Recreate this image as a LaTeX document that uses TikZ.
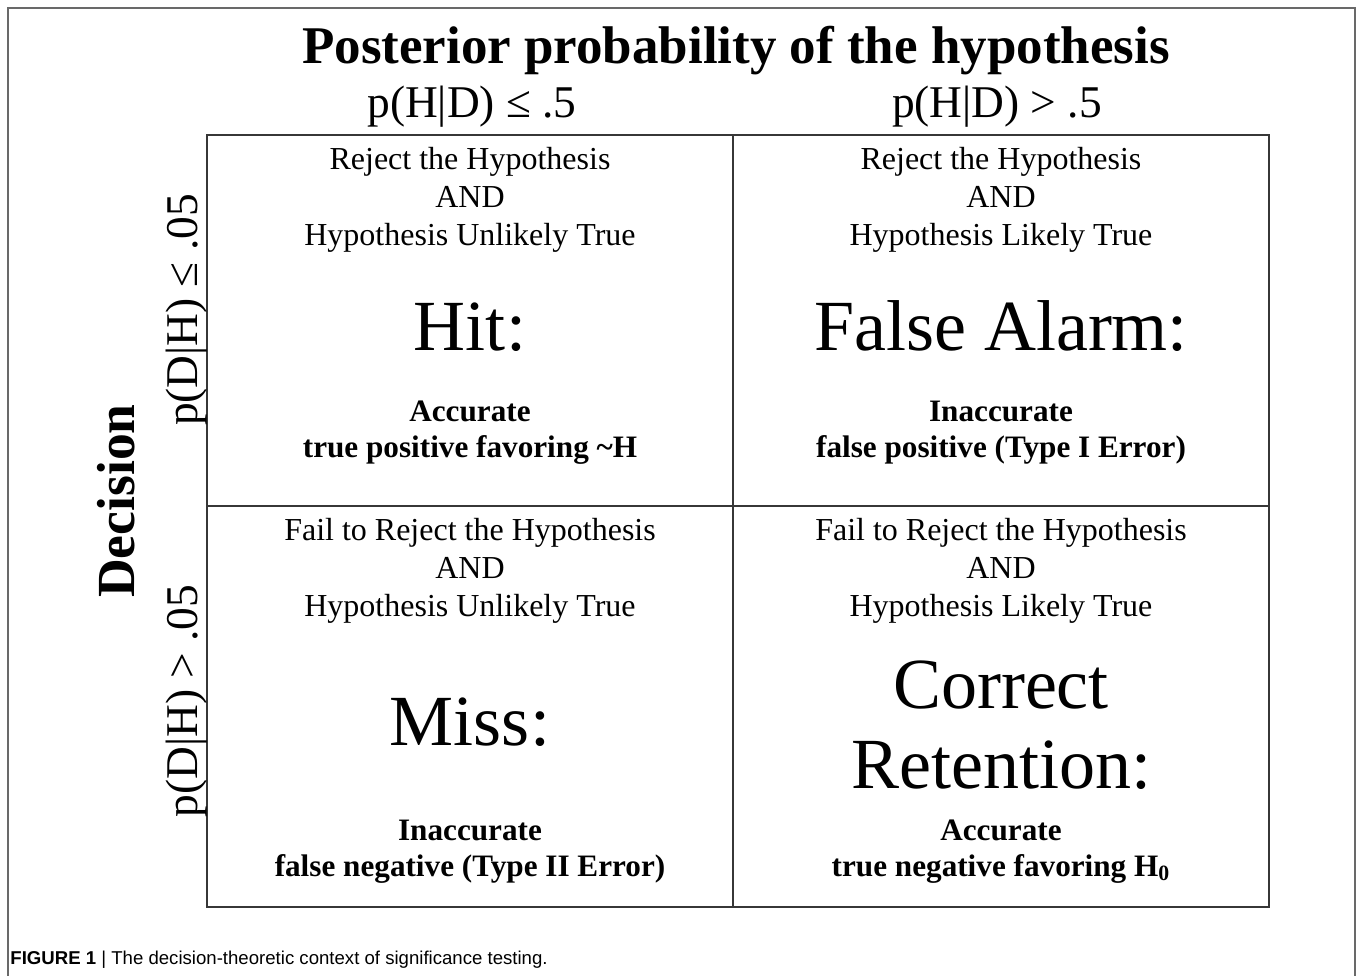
\documentclass[tikz,border=0pt]{standalone}
\usepackage{fontspec}
\setmainfont{Liberation Serif}
\newfontfamily\captionfont{Liberation Sans}
\usetikzlibrary{positioning}
\definecolor{gridColor}{RGB}{55,55,55}
\definecolor{frameColor}{RGB}{105,105,105}

\begin{document}
\begin{tikzpicture}[x=0.5pt, y=-0.5pt,
    cellText/.style={anchor=base, align=center, font=\fontsize{16}{18.8}\selectfont},
    bigText/.style={anchor=base, align=center, font=\fontsize{36}{40}\selectfont},
    verdictText/.style={anchor=base, align=center, font=\bfseries\fontsize{15.6}{17.8}\selectfont},
    axisText/.style={anchor=base, font=\fontsize{22.7}{26}\selectfont}]
    \useasboundingbox (0,0) rectangle (1357,976);

    % Outer frame
    \draw[frameColor, line width=0.7pt] (8,976) -- (8,8) -- (1355,8) -- (1355,976);

    % Grid
    \draw[gridColor, line width=0.8pt] (207,135) rectangle (1269,907);
    \draw[gridColor, line width=0.8pt] (733,135) -- (733,907);
    \draw[gridColor, line width=0.8pt] (207,506) -- (1269,506);

    % Column headings
    \node[axisText, font=\bfseries\fontsize{26.5}{30}\selectfont] (title) at (736,63) {Posterior probability of the hypothesis};
    \node[axisText] (colLow) at (472,117) {p(H|D) ≤ .5};
    \node[axisText] (colHigh) at (997,117) {p(H|D) > .5};

    % Row headings
    \node[axisText, rotate=90, font=\bfseries\fontsize{26.8}{30}\selectfont] (decision) at (134,501) {Decision};
    \node[axisText, rotate=90] (rowSig) at (197,310) {p(D|H) ≤ .05};
    \node[axisText, rotate=90] (rowNonSig) at (197,701) {p(D|H) > .05};

    % Cells (anchored at the baseline of the last line)
    \foreach \name/\cx/\cy/\what/\likely/\big/\bigy/\acc/\desc/\accy in {
        hit/470/245/Reject the Hypothesis/Unlikely/Hit:/350/Accurate/true positive favoring \textasciitilde H/457,
        alarm/1001/245/Reject the Hypothesis/Likely/False Alarm:/350/Inaccurate/false positive (Type I Error)/457,
        miss/470/616/Fail to Reject the Hypothesis/Unlikely/Miss:/745/Inaccurate/false negative (Type II Error)/876,
        retain/1001/616/Fail to Reject the Hypothesis/Likely/Correct\\Retention:/788/Accurate/true negative favoring H\textsubscript{0}/876
    } {
        \node[cellText] (\name-top) at (\cx,\cy) {\what\\AND\\Hypothesis \likely\ True};
        \node[bigText] (\name-big) at (\cx,\bigy) {\big};
        \node[verdictText] (\name-acc) at (\cx,\accy) {\acc\\\desc};
    }

    % Caption
    \node[anchor=base west, inner sep=0pt, font=\captionfont\fontsize{9.3}{11}\selectfont] (caption) at (10,964)
        {\textbf{FIGURE 1} | The decision-theoretic context of significance testing.};

\end{tikzpicture}
\end{document}
